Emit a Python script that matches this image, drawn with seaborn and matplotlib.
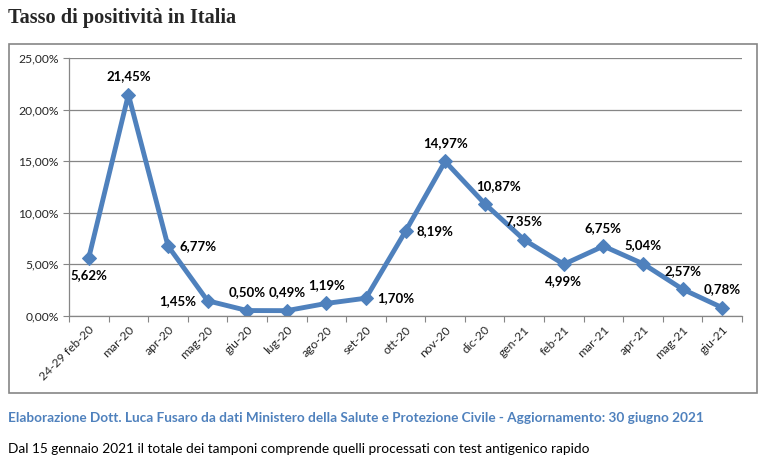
import pandas as pd
import matplotlib.pyplot as plt
import matplotlib.patches as mpatches
import seaborn as sns

# Monthly positivity rate (%)
mesi = ['24-29 feb-20', 'mar-20', 'apr-20', 'mag-20', 'giu-20', 'lug-20', 'ago-20', 'set-20',
        'ott-20', 'nov-20', 'dic-20', 'gen-21', 'feb-21', 'mar-21', 'apr-21', 'mag-21', 'giu-21']
tasso = [5.62, 21.45, 6.77, 1.45, 0.50, 0.49, 1.19, 1.70,
         8.19, 14.97, 10.87, 7.35, 4.99, 6.75, 5.04, 2.57, 0.78]
# where each data label sits relative to its point
posizioni = ['below', 'above', 'right', 'left', 'above', 'above', 'above', 'right',
             'right', 'above', 'aboveright', 'above', 'below', 'above', 'above', 'above', 'above']

df = pd.DataFrame({'mese': mesi, 'tasso': tasso})
df['x'] = range(len(df))

sns.set_style("white")
plt.rcParams['font.family'] = ['Lato', 'DejaVu Sans']

blu = '#4F81BD'
grigio = '#868686'

fig = plt.figure(figsize=(7.69, 4.65), dpi=100)
ax = fig.add_axes([69 / 769, 1 - 315.7 / 465, (742 - 69) / 769, (315.7 - 58) / 465])

sns.lineplot(data=df, x='x', y='tasso', ax=ax, color=blu, linewidth=3.5,
             marker='D', markersize=7, markeredgecolor=blu, sort=False)

ax.set_xlim(-0.5, len(mesi) - 0.5)
ax.set_ylim(0, 25)
ax.set_xlabel('')
ax.set_ylabel('')

# ticks at category boundaries, labels at centers
ax.set_xticks([i - 0.5 for i in range(len(mesi) + 1)])
ax.set_xticklabels([])
ax.set_xticks(range(len(mesi)), minor=True)
ax.set_xticklabels(mesi, minor=True, rotation=45, ha='right', rotation_mode='anchor', fontsize=8.7)
ax.tick_params(axis='x', which='major', length=4, color=grigio, direction='out', bottom=True)
ax.tick_params(axis='x', which='minor', length=0, pad=6)

ax.set_yticks([0, 5, 10, 15, 20, 25])
ax.set_yticklabels([f'{v:.2f}%'.replace('.', ',') for v in [0, 5, 10, 15, 20, 25]], fontsize=8.7)
ax.tick_params(axis='y', length=4, color=grigio, direction='out', left=True)

ax.grid(axis='y', color=grigio, linewidth=0.9)
ax.set_axisbelow(True)
for s in ['top', 'right']:
    ax.spines[s].set_visible(False)
for s in ['left', 'bottom']:
    ax.spines[s].set_color(grigio)
    ax.spines[s].set_linewidth(0.9)

offsets = {'above': (0, 9, 'center', 'bottom'), 'below': (0, -8, 'center', 'top'),
           'right': (8, 0, 'left', 'center'), 'left': (-8, 0, 'right', 'center'),
           'aboveright': (-6, 8, 'left', 'bottom')}
for xi, v, p in zip(df['x'], tasso, posizioni):
    dx, dy, ha, va = offsets[p]
    ax.annotate(f'{v:.2f}%'.replace('.', ','), (xi, v), xytext=(dx, dy), textcoords='offset points',
                ha=ha, va=va, fontsize=9.5, fontweight='bold', color='black')

# chart frame
fig.patches.append(mpatches.Rectangle((9 / 769, 1 - 393 / 465), (757 - 9) / 769, (393 - 44) / 465,
                                      transform=fig.transFigure, fill=False,
                                      edgecolor=grigio, linewidth=1.2))

fig.text(8 / 769, 1 - 18 / 465, 'Tasso di positività in Italia', fontsize=14.6, fontweight='bold',
         family=['Liberation Serif', 'DejaVu Serif'], va='center', ha='left')
fig.text(8 / 769, 1 - 418 / 465,
         'Elaborazione Dott. Luca Fusaro da dati Ministero della Salute e Protezione Civile - Aggiornamento: 30 giugno 2021',
         fontsize=9.8, fontweight='bold', color=blu, va='center', ha='left')
fig.text(8 / 769, 1 - 449 / 465,
         'Dal 15 gennaio 2021 il totale dei tamponi comprende quelli processati con test antigenico rapido',
         fontsize=9.8, color='black', va='center', ha='left')

fig.savefig('out.png', dpi=100)
